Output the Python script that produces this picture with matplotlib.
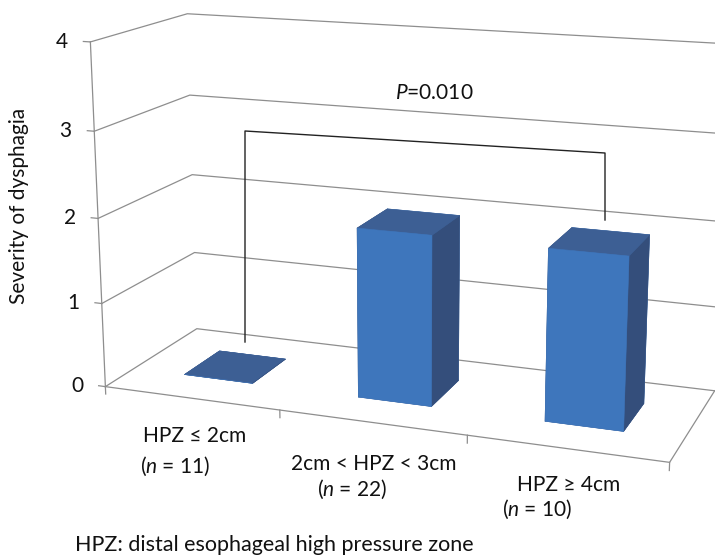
import numpy as np
import matplotlib
matplotlib.use("Agg")
import matplotlib.pyplot as plt
from matplotlib.lines import Line2D

plt.rcParams['font.family'] = ['Lato', 'DejaVu Sans']
plt.rcParams['mathtext.fontset'] = 'custom'
plt.rcParams['mathtext.rm'] = 'Lato'
plt.rcParams['mathtext.it'] = 'Lato:italic'

# ---- data -------------------------------------------------------------
groups = ["HPZ ≤ 2cm", "2cm < HPZ < 3cm", "HPZ ≥ 4cm"]
group_n = ["($n$ = 11)", "($n$ = 22)", "($n$ = 10)"]
severity = [0.0, 1.98, 1.96]
value_ticks = [0, 1, 2, 3, 4]
p_label = "$P$=0.010"
y_title = "Severity of dysphagia"
footnote = "HPZ: distal esophageal high pressure zone"

# ---- style ------------------------------------------------------------
FRONT = '#3E76BC'
TOP = '#3D5F94'
SIDE = '#344E7B'
GRID = '#8E8E8E'
INK = '#111111'
FS = 15

W, H = 715, 558
fig = plt.figure(figsize=(W / 100, H / 100), dpi=100)


def fx(px):
    return px / W


def fy(py):
    return 1 - py / H


ax = fig.add_axes([0.0708, -0.0366, 0.9762, 1.2509], projection='3d',
                  computed_zorder=False)
ax.set_proj_type('persp', focal_length=0.49)
ax.view_init(elev=14.5, azim=-69.5)
ax.set_box_aspect((6.55, 2.3, 3.97))
ncat = len(groups)
ax.set_xlim(0, ncat)
ax.set_ylim(0, 1)
ax.set_zlim(value_ticks[0], value_ticks[-1])
ax.set_axis_off()
proj = ax.get_proj()


def to_2d(x, y, z):
    """Project a data point of the 3D box onto the axes' 2D plane."""
    v = proj @ np.array([x, y, z, 1.0])
    return v[0] / v[3], v[1] / v[3]


gkw = dict(color=GRID, lw=0.9, zorder=1)
# gridlines on the side wall and the back wall, with value ticks
for z in value_ticks:
    ax.plot([0, 0, ncat], [0, 1, 1], [z, z, z], **gkw)
    ax.plot([0, -0.04], [0, 0], [z, z], **gkw)
    tx, ty = to_2d(-0.13, 0, z)
    ax.text2D(tx, ty, str(z), transform=ax.transData, ha='right',
              va='center_baseline', fontsize=FS, color=INK)
# floor outline and vertical axis line
ax.plot([0, ncat, ncat], [0, 0, 1], [0, 0, 0], **gkw)
ax.plot([0, 0], [0, 0], [0, value_ticks[-1]], **gkw)
for i in range(ncat + 1):
    ax.plot([i, i], [0, 0], [0, -0.09], **gkw)

# columns
bw, bd = 0.4, 0.4
xs = [i + (1 - bw) / 2 for i in range(ncat)]
faces = []
for v in severity:
    # bottom, top, front, back, left, right
    faces += [TOP, TOP, FRONT, FRONT, SIDE, SIDE]
ax.bar3d(xs, [(1 - bd) / 2] * ncat, [0] * ncat, bw, bd, severity,
         color=faces, edgecolor=faces, linewidth=0.4, shade=False, zorder=3)

# significance bracket between first and last group
bracket = Line2D([fx(245), fx(245), fx(605), fx(605)],
                 [fy(342), fy(131), fy(153), fy(220)],
                 transform=fig.transFigure, color='#222222', lw=1.0)
fig.add_artist(bracket)
fig.text(fx(434), fy(93), p_label, ha='center', va='center', fontsize=FS,
         color=INK)

# category labels
label_pos = [(143, 442, 140, 473), (291, 470, 317, 496), (517, 491, 502, 516)]
for name, n, (x1, y1, x2, y2) in zip(groups, group_n, label_pos):
    fig.text(fx(x1), fy(y1), name, ha='left', va='baseline', fontsize=FS,
             color=INK)
    fig.text(fx(x2), fy(y2), n, ha='left', va='baseline', fontsize=FS,
             color=INK)

fig.text(fx(19), fy(206), y_title, rotation=90, ha='center', va='center',
         fontsize=FS, color=INK)
fig.text(fx(75), fy(551), footnote, ha='left', va='baseline', fontsize=15.5,
         color=INK)

fig.savefig('out.png', dpi=100)
